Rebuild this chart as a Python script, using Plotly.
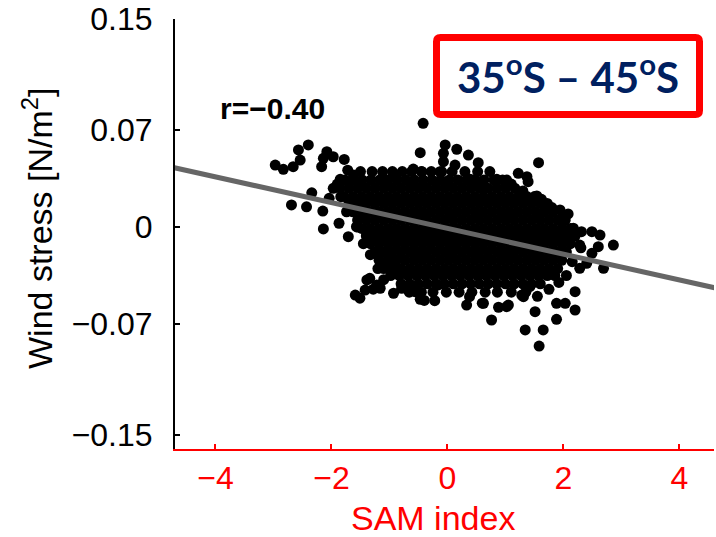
import plotly.graph_objects as go

# ---------------- data ----------------
# dense core of the cloud, stored row by row (wind stress value of the row, SAM values in the row)
core_row_stress = [0.040, 0.034, 0.028, 0.022, 0.017, 0.011, 0.005, -0.001,
                   -0.0065, -0.012, -0.018, -0.024, -0.030, -0.035, -0.041, -0.047]
core_row_sam = [
    [-1.50, -1.30, -1.12, -0.95, -0.78, -0.62, -0.45, -0.28, -0.10, 0.08, 0.30, 0.52, 0.73],
    [-1.77, -1.62, -1.47, -1.32, -1.17, -1.02, -0.87, -0.72, -0.57, -0.42, -0.27, -0.12, 0.03, 0.18,
     0.33, 0.48, 0.63, 0.80, 0.95],
    [-1.85, -1.70, -1.55, -1.40, -1.25, -1.10, -0.95, -0.80, -0.65, -0.50, -0.35, -0.20, -0.05, 0.10,
     0.25, 0.40, 0.55, 0.70, 0.85, 1.00, 1.16],
    [-1.78, -1.63, -1.48, -1.33, -1.18, -1.03, -0.88, -0.73, -0.58, -0.43, -0.28, -0.13, 0.02, 0.17,
     0.32, 0.47, 0.62, 0.77, 0.92, 1.07, 1.22, 1.37, 1.50],
    [-1.70, -1.55, -1.40, -1.25, -1.10, -0.95, -0.80, -0.65, -0.50, -0.35, -0.20, -0.05, 0.10, 0.25,
     0.40, 0.55, 0.70, 0.85, 1.00, 1.15, 1.30, 1.45, 1.60, 1.72],
    [-1.63, -1.48, -1.33, -1.18, -1.03, -0.88, -0.73, -0.58, -0.43, -0.28, -0.13, 0.02, 0.17, 0.32,
     0.47, 0.62, 0.77, 0.92, 1.07, 1.22, 1.37, 1.52, 1.67, 1.82],
    [-1.55, -1.40, -1.25, -1.10, -0.95, -0.80, -0.65, -0.50, -0.35, -0.20, -0.05, 0.10, 0.25, 0.40,
     0.55, 0.70, 0.85, 1.00, 1.15, 1.30, 1.45, 1.60, 1.75, 1.90, 2.03],
    [-1.48, -1.33, -1.18, -1.03, -0.88, -0.73, -0.58, -0.43, -0.28, -0.13, 0.02, 0.17, 0.32, 0.47,
     0.62, 0.77, 0.92, 1.07, 1.22, 1.37, 1.52, 1.67, 1.82, 1.97, 2.12],
    [-1.40, -1.25, -1.10, -0.95, -0.80, -0.65, -0.50, -0.35, -0.20, -0.05, 0.10, 0.25, 0.40, 0.55,
     0.70, 0.85, 1.00, 1.15, 1.30, 1.45, 1.60, 1.75, 1.90, 2.05, 2.20],
    [-1.33, -1.18, -1.03, -0.88, -0.73, -0.58, -0.43, -0.28, -0.13, 0.02, 0.17, 0.32, 0.47, 0.62,
     0.77, 0.92, 1.07, 1.22, 1.37, 1.52, 1.67, 1.82, 1.97, 2.12],
    [-1.25, -1.10, -0.95, -0.80, -0.65, -0.50, -0.35, -0.20, -0.05, 0.10, 0.25, 0.40, 0.55, 0.70,
     0.85, 1.00, 1.15, 1.30, 1.45, 1.60, 1.75, 1.90, 2.05],
    [-1.18, -1.03, -0.88, -0.73, -0.58, -0.43, -0.28, -0.13, 0.02, 0.17, 0.32, 0.47, 0.62, 0.77,
     0.92, 1.07, 1.22, 1.37, 1.52, 1.67, 1.82, 1.97],
    [-1.10, -0.95, -0.80, -0.65, -0.50, -0.35, -0.20, -0.05, 0.10, 0.25, 0.40, 0.55, 0.70, 0.85,
     1.00, 1.15, 1.30, 1.45, 1.60, 1.75, 1.90],
    [-0.98, -0.83, -0.68, -0.53, -0.38, -0.23, -0.08, 0.07, 0.22, 0.37, 0.52, 0.67, 0.82, 0.97,
     1.12, 1.27, 1.42, 1.57, 1.72, 1.85],
    [-0.80, -0.65, -0.50, -0.35, -0.20, -0.05, 0.10, 0.25, 0.40, 0.55, 0.70, 0.85, 1.00, 1.15,
     1.30, 1.45, 1.60],
    [-0.66, -0.45, -0.25, -0.02, 0.20, 0.42, 0.65, 0.86, 1.10, 1.35],
]

# scattered points around the core
outer_sam = [
    -2.97, -2.83, -2.66, -2.54, -2.57, -2.40, -2.08, -2.14, -1.97, -1.78, -2.17, -1.62, -1.85, -1.97,
    -2.34, -2.69, -2.43, -2.15, -2.04, -1.84, -1.68, -1.74, -2.14, -1.87, -1.71, -1.57, -1.19, -1.08,
    -0.93, -1.34, -1.22, -1.42, -1.59, -1.51, -0.93, -1.39, -1.28,
    -0.42, -0.47, -0.04, -0.07, 0.16, 0.36, 0.53, -0.07, 0.13, -0.59, -0.44, -0.91, -0.13, 0.39,
    0.85, 1.02, 1.22, 1.37, 0.59, -1.11, 1.57, 1.39, 1.54,
    1.94, 2.08, 2.17, 2.31, 2.49, 2.63, 2.86, 2.60, 2.49, 2.28, 2.40, 2.69, 2.28, 2.20, 2.03, 1.88,
    2.20, 1.51, 1.42, 1.28, 1.88, 1.65, 1.34, 1.58, 0.76, 0.33, 0.62, 1.02, 1.05, 0.88, 0.38, -0.47,
    -0.22, -0.56, -0.16, -0.79, -1.16, 1.31,
    -1.90, -1.72, -1.55, -1.45, -1.33, -1.20, -1.10, 1.10, 1.30, 1.62, 1.80, 2.00, 2.30, 2.15,
    2.05, 1.92, 1.75, 1.55, -0.40, 0.60,
]
outer_stress = [
    0.0447, 0.0416, 0.0435, 0.0483, 0.0556, 0.0592, 0.0543, 0.0496, 0.0507, 0.0488, 0.0435, 0.0375,
    0.0344, 0.0279, 0.0247, 0.0159, 0.0146, 0.0115, 0.0207, 0.0219, 0.0175, 0.0110, -0.0014, 0.0027,
    -0.0070, 0.0002, -0.0202, -0.0274, -0.0250, -0.0370, -0.0418, -0.0455, -0.0491, -0.0514, -0.0478,
    -0.0382, -0.0449,
    0.0748, 0.0536, 0.0592, 0.0532, 0.0561, 0.0519, 0.0464, 0.0471, 0.0447, 0.0418, 0.0399, 0.0375,
    0.0399, 0.0344, 0.0344, 0.0339, 0.0387, 0.0363, 0.0286, 0.0351, 0.0464, 0.0327, 0.0224,
    0.0123, 0.0094, -0.0009, -0.0034, -0.0034, -0.0058, -0.0130, -0.0142, -0.0190, -0.0130, -0.0262,
    -0.0298, -0.0298, -0.0467, -0.0551, -0.0551, -0.0599, -0.0611, -0.0431, -0.0491, -0.0666,
    -0.0743, -0.0743, -0.0859, -0.0671, -0.0563, -0.0551, -0.0575, -0.0563, -0.0579, -0.0503,
    -0.0522, -0.0532, -0.0467, -0.0418, -0.0442, -0.0442, -0.0503,
    0.0310, 0.0410, 0.0000, -0.0120, -0.0200, -0.0300, -0.0380, 0.0310, 0.0260, 0.0200, 0.0140,
    0.0080, -0.0150, -0.0250, -0.0350, -0.0400, -0.0450, -0.0500, -0.0530, -0.0550,
]

# least-squares line
fit_slope = -0.0093
fit_intercept = -0.001
r_text = "r=\u22120.40"

x_ticks = [-4, -2, 0, 2, 4]
x_tick_text = ["\u22124", "\u22122", "0", "2", "4"]
y_ticks = [-0.15, -0.07, 0, 0.07, 0.15]
y_tick_text = ["\u22120.15", "\u22120.07", "0", "0.07", "0.15"]
x_range = [-4.698, 4.595]
y_range = [-0.1602, 0.1501]

# ---------------- build figure ----------------
pts_x, pts_y = [], []
for yv, row in zip(core_row_stress, core_row_sam):
    pts_x.extend(row)
    pts_y.extend([yv] * len(row))
pts_x.extend(outer_sam)
pts_y.extend(outer_stress)

W, H = 716, 537
L, R, T, B = 175, 2, 19, 88
PW, PH = W - L - R, H - T - B


def px(xp):
    return (xp - L) / PW


def py(yp):
    return (H - B - yp) / PH


def rounded_rect_path(x0, y0, x1, y1, r):
    # pixel corners -> paper path with rounded corners
    pts = []
    pts.append(f"M {px(x0 + r)},{py(y0)}")
    pts.append(f"L {px(x1 - r)},{py(y0)}")
    pts.append(f"Q {px(x1)},{py(y0)} {px(x1)},{py(y0 + r)}")
    pts.append(f"L {px(x1)},{py(y1 - r)}")
    pts.append(f"Q {px(x1)},{py(y1)} {px(x1 - r)},{py(y1)}")
    pts.append(f"L {px(x0 + r)},{py(y1)}")
    pts.append(f"Q {px(x0)},{py(y1)} {px(x0)},{py(y1 - r)}")
    pts.append(f"L {px(x0)},{py(y0 + r)}")
    pts.append(f"Q {px(x0)},{py(y0)} {px(x0 + r)},{py(y0)}")
    pts.append("Z")
    return " ".join(pts)


fig = go.Figure()
fig.add_trace(go.Scatter(
    x=pts_x, y=pts_y, mode="markers",
    marker=dict(color="black", size=11, line=dict(width=0)),
    hoverinfo="skip", showlegend=False,
))
line_x = [x_range[0] - 0.5, x_range[1] + 0.5]
line_y = [fit_slope * v + fit_intercept for v in line_x]
fig.add_trace(go.Scatter(
    x=line_x, y=line_y, mode="lines",
    line=dict(color="#666666", width=5),
    hoverinfo="skip", showlegend=False,
))

font_main = "Liberation Sans, Arial, Helvetica, sans-serif"

fig.update_layout(
    width=W, height=H,
    margin=dict(l=L, r=R, t=T, b=B),
    paper_bgcolor="white", plot_bgcolor="white",
    font=dict(family=font_main, color="black"),
    xaxis=dict(
        range=x_range, tickvals=x_ticks, ticktext=x_tick_text,
        showgrid=False, zeroline=False,
        showline=True, linecolor="red", linewidth=2,
        ticks="inside", ticklen=5, tickwidth=2, tickcolor="red",
        tickfont=dict(size=32, color="red", family=font_main),
        ticklabelstandoff=0,
    ),
    yaxis=dict(
        range=y_range, tickvals=y_ticks, ticktext=y_tick_text,
        showgrid=False, zeroline=False,
        showline=True, linecolor="black", linewidth=2,
        ticks="inside", ticklen=5, tickwidth=2, tickcolor="black",
        tickfont=dict(size=32, color="black", family=font_main),
        ticklabelstandoff=14,
    ),
    shapes=[dict(
        type="path", xref="paper", yref="paper",
        path=rounded_rect_path(436.5, 37.5, 699.5, 114.5, 4),
        line=dict(color="red", width=7), fillcolor="white", layer="above",
    )],
    annotations=[
        dict(text="SAM index", xref="paper", yref="paper", x=px(433), y=py(518),
             xanchor="center", yanchor="middle", showarrow=False,
             font=dict(size=34, color="red", family=font_main)),
        dict(text="Wind stress [N/m<sup>2</sup>]", xref="paper", yref="paper",
             x=px(37), y=py(228), xanchor="center", yanchor="middle", textangle=-90,
             showarrow=False, font=dict(size=34, color="black", family=font_main)),
        dict(text="<b>" + r_text + "</b>", xref="paper", yref="paper", x=px(272), y=py(108),
             xanchor="center", yanchor="middle", showarrow=False,
             font=dict(size=30, color="black", family=font_main)),
        dict(text="<b>35<sup>o</sup>S \u2013 45<sup>o</sup>S</b>", xref="paper", yref="paper",
             x=px(568), y=py(74), xanchor="center", yanchor="middle", showarrow=False,
             font=dict(size=42, color="#002060", family="Lato, Open Sans, sans-serif")),
    ],
)

fig.write_html("out.html")
